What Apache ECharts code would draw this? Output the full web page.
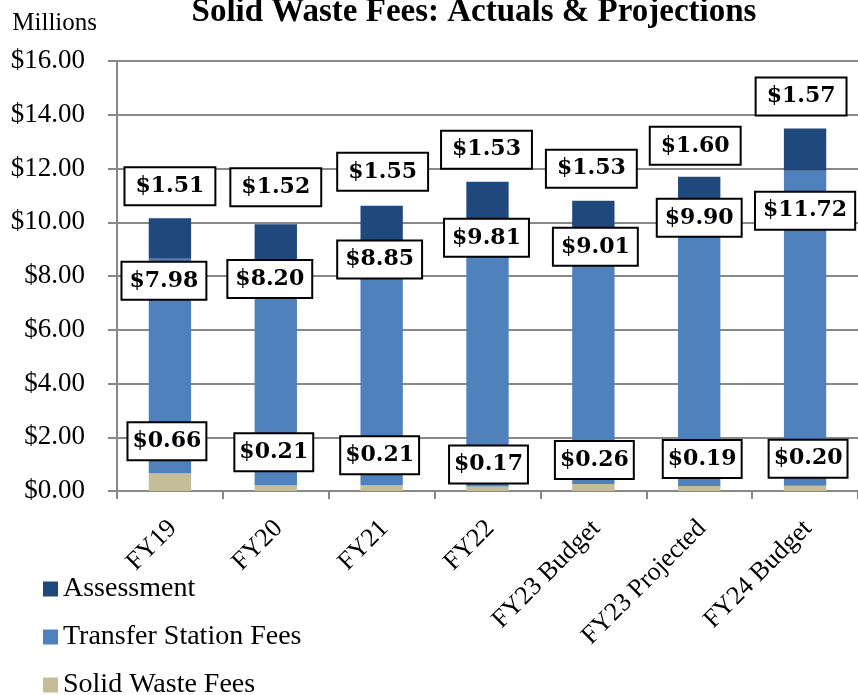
<!DOCTYPE html>
<html>
<head>
<meta charset="utf-8">
<script src="https://cdn.jsdelivr.net/npm/echarts@6/dist/echarts.min.js"></script>
<style>
  html, body { margin: 0; padding: 0; background: #fff; }
  #chart { width: 858px; height: 695px; }
</style>
</head>
<body>
<div id="chart"></div>
<script>
// Fiscal years / budget scenarios
const categories = ['FY19', 'FY20', 'FY21', 'FY22', 'FY23 Budget', 'FY23 Projected', 'FY24 Budget'];

// Revenue in millions of dollars
const solidWasteFees = [0.66, 0.21, 0.21, 0.17, 0.26, 0.19, 0.20];
const transferStationFees = [7.98, 8.20, 8.85, 9.81, 9.01, 9.90, 11.72];
const assessment = [1.51, 1.52, 1.55, 1.53, 1.53, 1.60, 1.57];

// Y axis ticks
const yMin = 0, yMax = 16, yStep = 2;

// Legend order (top to bottom)
const legendOrder = ['Assessment', 'Transfer Station Fees', 'Solid Waste Fees'];

// Hand-placed nudges [dx, dy] for the boxed value labels
const solidLabelNudge = [[-3, -14], [-2, -15], [-2, -12], [1, -4], [1, -6], [3, -9], [3, -9]];
const transferLabelNudge = [[-6, 40], [-6, 32], [-2, 30], [-1, 33], [2, 23], [0, 16], [0, 58]];
const assessmentLabelNudge = [[0, -14], [0, -19], [1, -16], [-1, -14], [-2, -14], [-4, -13], [-4, -14]];

const serif = '"Liberation Serif", "Times New Roman", serif';
const boxFont = '"DejaVu Serif", serif';

function boxedLabel(padX) {
  return {
    show: true,
    position: 'top',
    distance: 0,
    formatter: p => '$' + p.value.toFixed(2),
    fontFamily: boxFont,
    fontWeight: 'bold',
    fontSize: 22,
    lineHeight: 24,
    color: '#000',
    backgroundColor: '#fff',
    borderColor: '#000',
    borderWidth: 2,
    padding: [6, padX, 6, padX]
  };
}

function withNudges(values, nudges) {
  return values.map((v, i) => ({ value: v, label: { offset: nudges[i] } }));
}

// One legend block per entry so they stack with an even 48px pitch
const legends = legendOrder.map((name, i) => ({
  orient: 'vertical',
  left: 43,
  top: 575 + i * 48,
  padding: 0,
  itemWidth: 15,
  itemHeight: 15,
  icon: 'rect',
  data: [name],
  textStyle: { fontFamily: serif, fontSize: 28, lineHeight: 28, color: '#000' }
}));

const chart = echarts.init(document.getElementById('chart'));

chart.setOption({
  animation: false,
  title: {
    text: 'Solid Waste Fees: Actuals & Projections',
    left: 469,
    top: -9,
    textAlign: 'center',
    textStyle: { fontFamily: serif, fontWeight: 'bold', fontSize: 33, color: '#000' }
  },
  legend: legends,
  grid: { left: 117, right: 0, top: 61, bottom: 204, containLabel: false },
  xAxis: {
    type: 'category',
    data: categories,
    axisLine: { lineStyle: { color: '#888', width: 2 } },
    axisTick: { show: true, length: 8, lineStyle: { color: '#888', width: 2 } },
    axisLabel: {
      interval: 0,
      rotate: 45,
      margin: 18,
      verticalAlign: 'top',
      lineHeight: 26,
      fontFamily: serif,
      fontSize: 26,
      color: '#000',
      padding: [0, 9, 0, 0]
    }
  },
  yAxis: {
    type: 'value',
    min: yMin,
    max: yMax,
    interval: yStep,
    name: 'Millions',
    nameLocation: 'end',
    nameGap: 25,
    nameTextStyle: { fontFamily: serif, fontSize: 25, color: '#000', align: 'right', padding: [0, 20, 0, 0] },
    axisLine: { show: true, lineStyle: { color: '#888', width: 2 } },
    axisTick: { show: true, length: 9, lineStyle: { color: '#888', width: 2 } },
    splitLine: { lineStyle: { color: '#888', width: 2 } },
    axisLabel: {
      margin: 32,
      fontFamily: serif,
      fontSize: 27,
      color: '#000',
      formatter: v => '$' + v.toFixed(2)
    }
  },
  series: [
    {
      name: 'Solid Waste Fees',
      type: 'bar',
      stack: 'fees',
      barWidth: '40%',
      itemStyle: { color: '#C4BD97' },
      data: withNudges(solidWasteFees, solidLabelNudge),
      label: boxedLabel(4),
      z: 2
    },
    {
      name: 'Transfer Station Fees',
      type: 'bar',
      stack: 'fees',
      barWidth: '40%',
      itemStyle: { color: '#4F81BD' },
      data: withNudges(transferStationFees, transferLabelNudge),
      label: boxedLabel(7),
      z: 2
    },
    {
      name: 'Assessment',
      type: 'bar',
      stack: 'fees',
      barWidth: '40%',
      itemStyle: { color: '#1F497D' },
      data: withNudges(assessment, assessmentLabelNudge),
      label: boxedLabel(10),
      z: 2
    }
  ]
});
</script>
</body>
</html>
